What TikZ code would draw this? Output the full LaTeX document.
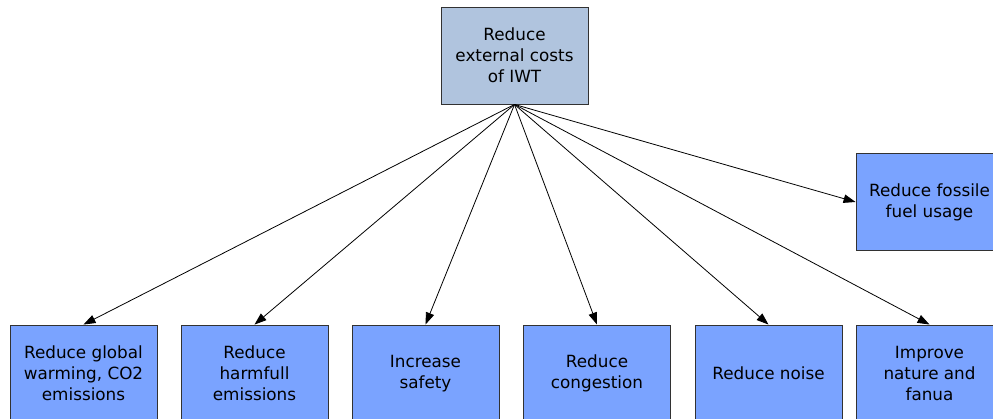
\documentclass[tikz,border=0pt]{standalone}
\usepackage{fontspec}
\setmainfont{DejaVu Sans}
\usetikzlibrary{arrows.meta}
\definecolor{goalfill}{RGB}{176,196,222}
\definecolor{subfill}{RGB}{122,163,255}
\definecolor{edgegrey}{RGB}{50,50,50}
\begin{document}
\begin{tikzpicture}[x=1pt,y=1pt,
  box/.style={draw=edgegrey, line width=0.9pt, rectangle,
    minimum width=147pt, minimum height=97pt, inner sep=0pt,
    align=center, font=\fontsize{16.8}{21}\selectfont},
  goal/.style={box, fill=goalfill},
  sub/.style={box, fill=subfill},
  link/.style={draw=black, line width=0.8pt,
    -{Triangle[length=12pt,width=8.5pt]}}]
  \useasboundingbox (0,0) rectangle (993,418);
  \begin{scope}
    \clip (0,0) rectangle (993,418);
    % main goal
    \node[goal] (top) at (514.5,362.5) {Reduce\\external costs\\of IWT};
    % sub goals along the bottom row
    \node[sub] (g1) at (83.5,44.5) {Reduce global\\warming, CO2\\emissions};
    \node[sub] (g2) at (254.5,44.5) {Reduce\\harmfull\\emissions};
    \node[sub] (g3) at (425.5,44.5) {Increase\\safety};
    \node[sub] (g4) at (597,44.5) {Reduce\\congestion};
    \node[sub] (g5) at (768.5,44.5) {Reduce noise};
    \node[sub] (g6) at (929.5,44.5) {Improve\\nature and\\fanua};
    % sub goal at the right edge
    \node[sub] (g7) at (929.5,216) {Reduce fossile\\fuel usage};
    % connectors
    \foreach \g in {g1,g2,g3,g4,g5,g6}
      \draw[link] (top.south) -- (\g.north);
    \draw[link] (top.south) -- (g7.west);
  \end{scope}
\end{tikzpicture}
\end{document}
